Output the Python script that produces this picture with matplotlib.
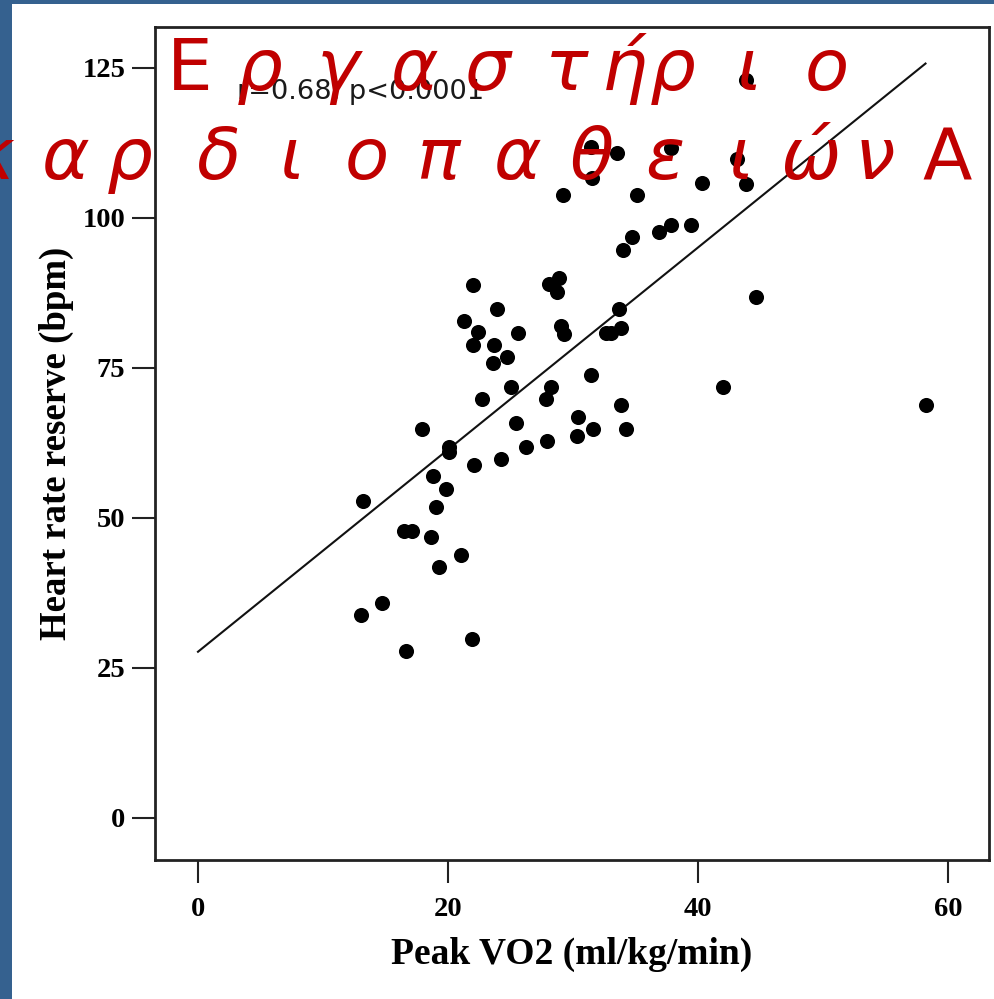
import matplotlib
matplotlib.use("Agg")
import matplotlib.pyplot as plt
from matplotlib.patches import Rectangle
import numpy as np

# ---- data ----
peak_vo2 = [13.2, 13.0, 14.7, 16.6, 16.5, 17.1, 17.9, 18.6, 18.8, 19.0,
            19.3, 19.8, 20.1, 20.1, 21.0, 21.9, 22.1, 21.3, 22.0, 22.4,
            22.0, 22.7, 23.7, 23.9, 23.6, 24.7, 24.2, 25.0, 25.4, 25.6,
            26.2, 27.9, 27.8, 28.2, 28.1, 28.7, 28.9, 29.2, 29.0, 29.3,
            30.4, 30.3, 31.4, 31.6, 31.4, 31.5, 33.5, 32.6, 33.0, 33.7,
            33.8, 33.8, 34.0, 34.2, 34.7, 35.1, 36.9, 37.8, 39.4, 37.8,
            40.3, 42.0, 43.1, 43.8, 43.8, 44.6, 58.2]
hr_reserve = [52.9, 33.8, 35.9, 27.8, 47.9, 47.9, 64.8, 46.8, 57.0, 51.8,
              41.8, 54.8, 61.9, 61.0, 43.8, 29.8, 58.8, 82.8, 88.8, 80.9,
              78.8, 69.8, 78.8, 84.8, 75.8, 76.8, 59.8, 71.8, 65.8, 80.8,
              61.8, 62.8, 69.8, 71.8, 88.9, 87.7, 89.9, 103.8, 81.9, 80.7,
              66.8, 63.7, 73.8, 64.8, 111.8, 106.6, 110.8, 80.8, 80.8, 84.8,
              81.7, 68.8, 94.7, 64.8, 96.8, 103.8, 97.7, 98.8, 98.8, 111.6,
              105.8, 71.8, 109.8, 105.7, 122.9, 86.8, 68.8]
fit_intercept = 27.7
fit_slope = 1.684
fit_x_range = [0.0, 58.2]

x_ticks = [0, 20, 40, 60]
y_ticks = [0, 25, 50, 75, 100, 125]
x_label = "Peak VO2 (ml/kg/min)"
y_label = "Heart rate reserve (bpm)"
stat_text = "r=0.68, p<0.0001"

title_line1 = ["Ε", "ρ", "γ", "α", "σ", "τ", "ή", "ρ", "ι", "ο"]
title_line2 = ["κ", "α", "ρ", "δ", "ι", "ο", "π", "α", "θ", "ε", "ι", "ώ", "ν", "Α"]

# ---- layout ----
W, H = 995, 999
fig = plt.figure(figsize=(W / 100, H / 100), dpi=100)
fig.patch.set_facecolor("#35618F")
fig.patches.append(Rectangle((12 / W, 0), 1 - 12 / W, 1 - 4 / H,
                             transform=fig.transFigure, facecolor="white",
                             edgecolor="none", zorder=-5))

ax = fig.add_axes([155 / W, 1 - 860 / H, (989 - 155) / W, (860 - 27) / H])
ax.set_xlim(-3.44, 63.28)
ax.set_ylim(-7.0, 131.8)

ax.scatter(peak_vo2, hr_reserve, s=118, color="black", zorder=3, linewidths=0)
fx = np.array(fit_x_range)
ax.plot(fx, fit_intercept + fit_slope * fx, color="#111111", lw=1.5, zorder=2)

serif = "Liberation Serif"
ax.set_xticks(x_ticks)
ax.set_yticks(y_ticks)
ax.set_xticklabels([str(t) for t in x_ticks], fontfamily=serif, fontweight="bold", fontsize=20.5)
ax.set_yticklabels([str(t) for t in y_ticks], fontfamily=serif, fontweight="bold", fontsize=20.5)
ax.tick_params(axis="both", direction="out", length=16.5, width=1.5, color="#222222")
ax.tick_params(axis="x", pad=10)
ax.tick_params(axis="y", pad=5)
for sp in ax.spines.values():
    sp.set_linewidth(2.0)
    sp.set_color("#222222")

ax.set_xlabel(x_label, fontfamily=serif, fontweight="bold", fontsize=27, labelpad=11)
ax.set_ylabel(y_label, fontfamily=serif, fontweight="bold", fontsize=26.5, labelpad=6)

ax.text(3.1, 119.8, stat_text, fontfamily="DejaVu Sans", fontsize=19.6,
        color="#1a1a1a", va="baseline", ha="left", zorder=4)

# ---- red overlay text ----
red = "#C00000"
line1_x = [190, 260, 338, 415, 488, 567, 625, 673, 749, 827]
line2_x = [-8, 66, 130, 218, 292, 367, 438, 518, 592, 665, 741, 810, 875, 947]
for ch, px in zip(title_line1, line1_x):
    style = "normal" if ch.isupper() else "italic"
    fig.text(px / W, 1 - 90 / H, ch, color=red, fontsize=52, fontstyle=style,
             fontfamily="DejaVu Sans", ha="center", va="baseline", zorder=10)
for ch, px in zip(title_line2, line2_x):
    style = "normal" if ch.isupper() else "italic"
    fig.text(px / W, 1 - 179 / H, ch, color=red, fontsize=52, fontstyle=style,
             fontfamily="DejaVu Sans", ha="center", va="baseline", zorder=10)

fig.savefig("out.png", dpi=100, facecolor=fig.get_facecolor())
